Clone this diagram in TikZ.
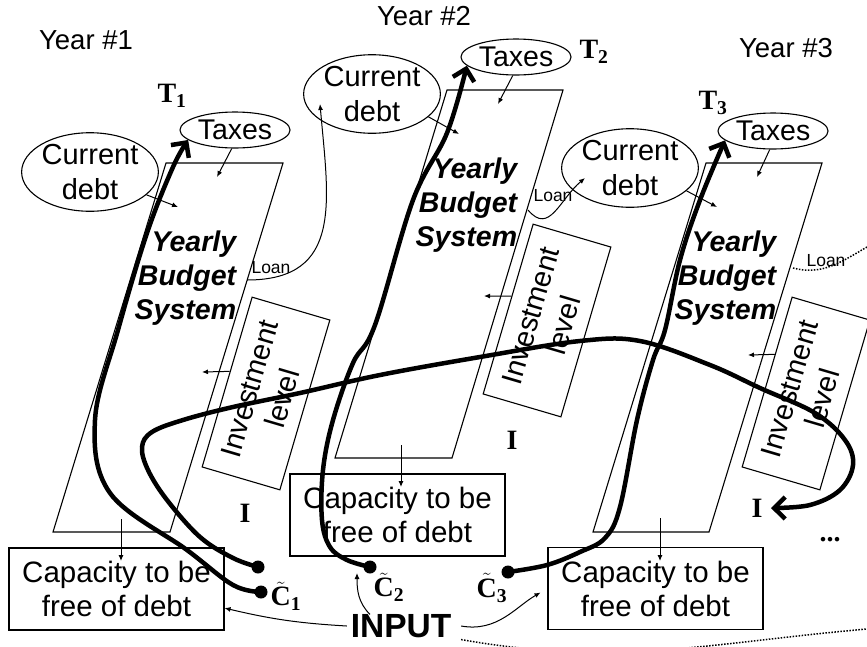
\documentclass[tikz,border=0pt]{standalone}
\usepackage{fontspec}
\setmainfont{Liberation Sans}
\newfontfamily\timesfont{Liberation Serif}
\usetikzlibrary{shapes.geometric, arrows.meta}

\begin{document}
\begin{tikzpicture}[
    x=1pt, y=1pt,
    line width=1.1pt,
    yearlabel/.style={font=\fontsize{27.5}{32}\selectfont},
    oval/.style={
        draw, 
        ellipse, 
        inner sep=0pt, 
        align=center, 
        font=\fontsize{29}{35}\selectfont
    },
    taxoval/.style={
        oval, 
        minimum width=110pt, 
        minimum height=36pt, 
        font=\fontsize{28.5}{33}\selectfont
    },
    debtoval/.style={oval, minimum width=134pt},
    capbox/.style={
        draw, 
        minimum width=215pt, 
        minimum height=82pt, 
        align=center, 
        font=\fontsize{29.5}{34}\selectfont
    },
    investbox/.style={
        draw, 
        rotate=73.6, 
        minimum width=177pt, 
        minimum height=81pt, 
        inner sep=0pt,
        align=center, 
        font=\fontsize{29}{34}\selectfont
    },
    budgettext/.style={
        anchor=east, 
        align=right, 
        font=\fontsize{28.5}{34}\selectfont\bfseries\itshape
    },
    sym/.style={font=\timesfont\bfseries\fontsize{28}{30}\selectfont, inner sep=2pt},
    loanlabel/.style={font=\fontsize{17.5}{20}\selectfont},
    dot/.style={circle, fill, inner sep=0pt, minimum size=13pt},
    thinarrow/.style={-{Latex[length=6pt,width=5pt]}, line width=1pt},
    bigarrow/.style={-{Straight Barb[length=11pt,width=22pt]}, line width=4.5pt},
    dotline/.style={line width=1.5pt, dash pattern=on 1.5pt off 1.5pt}
]
    \useasboundingbox (0,0) rectangle (867,-646);

    % Year labels
    \node[yearlabel] (yearA) at (86,-40) {Year \#1};
    \node[yearlabel] (yearB) at (424,-16) {Year \#2};
    \node[yearlabel] (yearC) at (786,-48) {Year \#3};

    % Yearly budget systems
    \draw (166,-163) -- (283,-163) -- (170,-532) -- (53,-532) -- cycle;
    \draw (447,-90) -- (563,-90) -- (452,-458) -- (335,-458) -- cycle;
    \draw (706,-163) -- (822,-163) -- (709,-532) -- (593,-532) -- cycle;
    \node[budgettext] (budgetA) at (240,-278) {Yearly\\Budget\\System};
    \node[budgettext] (budgetB) at (521,-205) {Yearly\\Budget\\System};
    \node[budgettext] (budgetC) at (780,-278) {Yearly\\Budget\\System};

    % Taxes and debt
    \node[taxoval] (taxesA) at (235,-130) {Taxes};
    \node[taxoval] (taxesB) at (516,-57) {Taxes};
    \node[taxoval] (taxesC) at (773,-131) {Taxes};
    \node[debtoval] (debtA) at (90,-172) {Current\\debt};
    \node[debtoval] (debtB) at (372,-94) {Current\\debt};
    \node[debtoval] (debtC) at (630,-168) {Current\\debt};

    % Investment level
    \node[investbox] (investA) at (266,-393.5) {Investment\\level};
    \node[investbox] (investB) at (547,-320.5) {Investment\\level};
    \node[investbox] (investC) at (806,-393.5) {Investment\\level};

    % Capacity boxes
    \node[capbox] (capA) at (116.5,-589) {Capacity to be\\free of debt};
    \node[capbox] (capB) at (397.5,-515) {Capacity to be\\free of debt};
    \node[capbox] (capC) at (655.5,-588.5) {Capacity to be\\free of debt};

    % Symbols
    \node[sym] (tA) at (172,-96) {T\textsubscript{1}};
    \node[sym] (tB) at (594,-52) {T\textsubscript{2}};
    \node[sym] (tC) at (713,-103) {T\textsubscript{3}};
    \node[sym] (iA) at (245,-513) {I};
    \node[sym] (iB) at (512,-440) {I};
    \node[sym, inner sep=8pt] (iC) at (757,-508) {I};
    \node[sym] (more) at (830,-540) {...};
    \node[sym] (cA) at (286,-596) {$\tilde{\hbox{C}}$\textsubscript{1}};
    \node[sym] (cB) at (389,-587) {$\tilde{\hbox{C}}$\textsubscript{2}};
    \node[sym] (cC) at (492,-588) {$\tilde{\hbox{C}}$\textsubscript{3}};
    \node[font=\fontsize{33.5}{38}\selectfont\bfseries] (input) at (401,-626) {INPUT};

    % Loan labels
    \node[loanlabel] (loanA) at (271,-268) {Loan};
    \node[loanlabel] (loanB) at (553,-196) {Loan};
    \node[loanlabel] (loanC) at (826,-261) {Loan};

    % Dots
    \node[dot] (c1dot) at (261,-592) {};
    \node[dot] (loopdot) at (258,-567) {};
    \node[dot] (c2dot) at (370,-567) {};
    \node[dot] (c3dot) at (508,-572) {};

    % Points inside the budget systems
    \coordinate (taxinA) at (217,-177);
    \coordinate (taxinB) at (498,-104);
    \coordinate (taxinC) at (757,-177);
    \coordinate (debtinA) at (178,-207);
    \coordinate (debtinB) at (459,-134);
    \coordinate (debtinC) at (717,-207);
    \coordinate (invinA) at (202,-372);
    \coordinate (invinB) at (484,-296);
    \coordinate (invinC) at (748,-355);
    \coordinate (outA) at (121,-519);
    \coordinate (outB) at (401,-445);
    \coordinate (outC) at (660,-518);
    \coordinate (loanoutA) at (247,-280);
    \coordinate (loanoutB) at (528,-210);
    \coordinate (loanoutC) at (793,-268);
    \coordinate (loaninB) at (320,-104);
    \coordinate (loaninC) at (585,-178);
    \coordinate (loanend) at (867,-247);
    \coordinate (c2in) at (357,-573);
    \coordinate (inputend) at (867,-629);

    % Edges
    \draw[thinarrow] (taxesA.-100) -- (taxinA);
    \draw[thinarrow] (taxesB.-100) -- (taxinB);
    \draw[thinarrow] (taxesC.-100) -- (taxinC);
    \draw[thinarrow] (debtA.-22) -- (debtinA);
    \draw[thinarrow] (debtB.-22) -- (debtinB);
    \draw[thinarrow] (debtC.-22) -- (debtinC);
    \draw[thinarrow] (investA.75) -- (invinA);
    \draw[thinarrow] (investB.72) -- (invinB);
    \draw[thinarrow] (investC.55) -- (invinC);
    \draw[thinarrow] (outA) -- ++(0,-42);
    \draw[thinarrow] (outB) -- ++(0,-42);
    \draw[thinarrow] (outC) -- ++(0,-43);

    \draw[thinarrow] (loanoutA) to[out=0, in=-85, looseness=1.3] (loaninB);
    \draw[thinarrow] (loanoutB) to[out=-50, in=-140, looseness=1.3] (loaninC);
    \draw[dotline] (loanoutC) to[out=-15, in=-150] (loanend);

    \draw[thinarrow] (input.west) to[bend left=5] (capA.-10);
    \draw[thinarrow] ([xshift=-31pt,yshift=-4pt]input.north) to[out=135, in=-90] (c2in);
    \draw[thinarrow, shorten >=8pt] ([xshift=6pt]input.east) to[out=-10, in=-150] (capC.west);
    \draw[dotline] ([xshift=6pt,yshift=2pt]input.south east) to[out=-10, in=185] (inputend);

    \draw[bigarrow] plot[smooth, tension=0.6] coordinates {
        (c1dot.center) (233,-585) (187,-550) (110,-493) (95,-420)
        (118,-330) (147,-233) (173,-167) (taxesA.192)};
    \draw[bigarrow] plot[smooth, tension=0.6] coordinates {
        (c2dot.center) (347,-560) (330,-547) (322,-520) (323,-470)
        (333,-420) (353,-363) (375,-325) (413,-200) (447,-133) (taxesB.190)};
    \draw[bigarrow] plot[smooth, tension=0.6] coordinates {
        (c3dot.center) (547,-565) (580,-552) (605,-538) (620,-507)
        (637,-420) (653,-360) (665,-330) (680,-260) (700,-200) (taxesC.191)};
    \draw[bigarrow] plot[smooth, tension=0.6] coordinates {
        (loopdot.center) (233,-558) (200,-537) (167,-500) (148,-470)
        (142,-447) (152,-432) (183,-420) (233,-407) (300,-393) (380,-375)
        (480,-357) (580,-341) (640,-341) (710,-365) (760,-388) (815,-413)
        (845,-440) (853,-465) (840,-490) (810,-505) (iC.east)};

\end{tikzpicture}
\end{document}
